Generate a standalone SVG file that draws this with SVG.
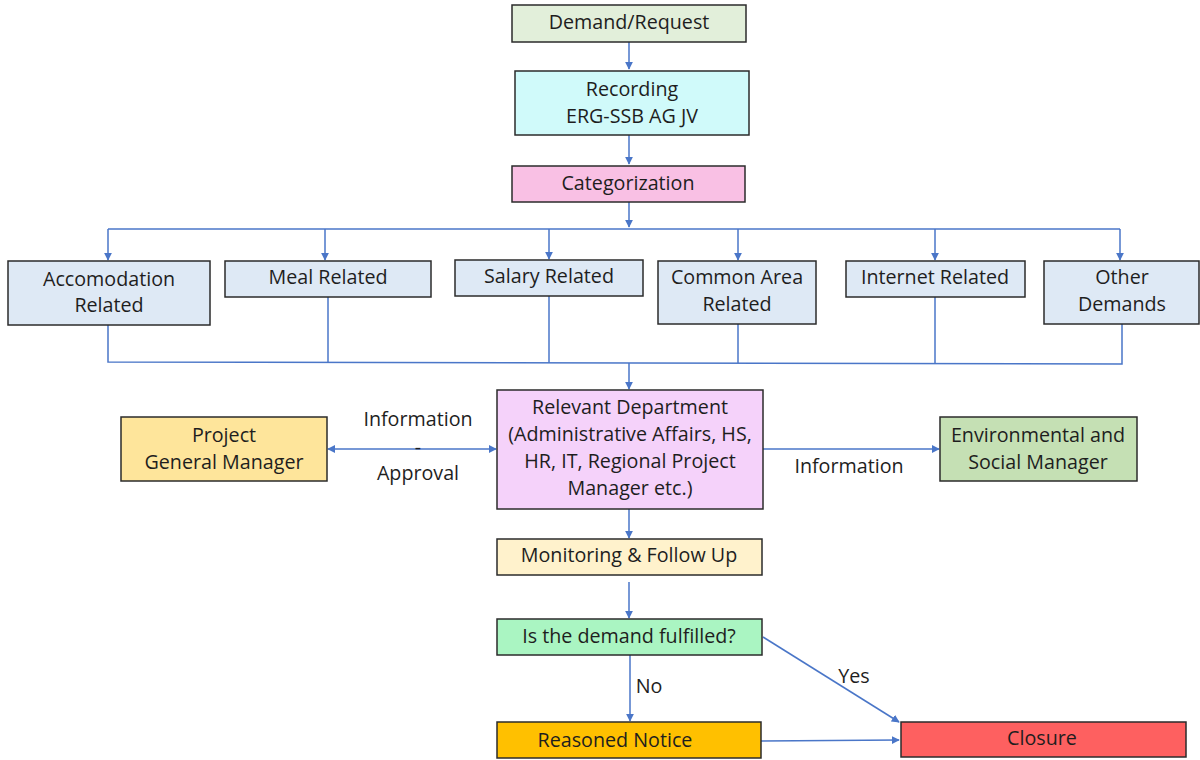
<svg xmlns="http://www.w3.org/2000/svg" width="1200" height="760" viewBox="0 0 1200 760">
  <style>
    .box { stroke: #2b2b2b; stroke-width: 1.5; }
    .t { font-family: "Open Sans", "Liberation Sans", sans-serif; font-size: 19.7px; fill: #1e1e1e; text-anchor: middle; dominant-baseline: central; }
    .ln { fill: none; stroke: #4a76c8; stroke-width: 1.5; }
  </style>
  <defs>
    <marker id="ah" viewBox="0 0 10 10" refX="9" refY="5" markerWidth="8" markerHeight="8" markerUnits="userSpaceOnUse" orient="auto-start-reverse">
      <path d="M0,0 L10,5 L0,10 z" fill="#4a76c8"/>
    </marker>
  </defs>
  <rect width="1200" height="760" fill="#ffffff"/>

  <g id="connectors">
    <line class="ln" x1="629" y1="42" x2="629" y2="69" marker-end="url(#ah)"/>
    <line class="ln" x1="629" y1="135" x2="629" y2="164" marker-end="url(#ah)"/>
    <line class="ln" x1="629" y1="202" x2="629" y2="227" marker-end="url(#ah)"/>
    <!-- distribution bus -->
    <line class="ln" x1="108" y1="229" x2="1120" y2="229"/>
    <line class="ln" x1="108" y1="229" x2="108" y2="260" marker-end="url(#ah)"/>
    <line class="ln" x1="325" y1="229" x2="325" y2="260" marker-end="url(#ah)"/>
    <line class="ln" x1="549" y1="229" x2="549" y2="259" marker-end="url(#ah)"/>
    <line class="ln" x1="738" y1="229" x2="738" y2="260" marker-end="url(#ah)"/>
    <line class="ln" x1="935" y1="229" x2="935" y2="260" marker-end="url(#ah)"/>
    <line class="ln" x1="1120" y1="229" x2="1120" y2="260" marker-end="url(#ah)"/>
    <!-- collection bus -->
    <polyline class="ln" points="108,325 108,362 1122,364 1122,324"/>
    <line class="ln" x1="328" y1="297" x2="328" y2="362"/>
    <line class="ln" x1="549" y1="296" x2="549" y2="363"/>
    <line class="ln" x1="738" y1="324" x2="738" y2="363"/>
    <line class="ln" x1="935" y1="297" x2="935" y2="363"/>
    <line class="ln" x1="629" y1="363" x2="629" y2="389" marker-end="url(#ah)"/>
    <!-- side links -->
    <line class="ln" x1="328" y1="449" x2="496" y2="449" marker-start="url(#ah)" marker-end="url(#ah)"/>
    <line class="ln" x1="763" y1="449" x2="939" y2="449" marker-end="url(#ah)"/>
    <!-- lower flow -->
    <line class="ln" x1="629" y1="509" x2="629" y2="538" marker-end="url(#ah)"/>
    <line class="ln" x1="629" y1="582" x2="629" y2="618" marker-end="url(#ah)"/>
    <line class="ln" x1="630" y1="655" x2="630" y2="721" marker-end="url(#ah)"/>
    <line class="ln" x1="763" y1="637" x2="899" y2="722" marker-end="url(#ah)"/>
    <line class="ln" x1="761" y1="741" x2="899" y2="740" marker-end="url(#ah)"/>
    <!-- connector labels -->
    <text class="t" x="418" y="418">Information</text>
    <text class="t" x="418" y="446">-</text>
    <text class="t" x="418" y="472">Approval</text>
    <text class="t" x="849" y="465">Information</text>
    <text class="t" x="649" y="685">No</text>
    <text class="t" x="854" y="675">Yes</text>
  </g>

  <g id="demand">
    <rect class="box" x="512" y="5" width="234" height="37" fill="#e2efda"/>
    <text class="t" x="629" y="21.5">Demand/Request</text>
  </g>
  <g id="recording">
    <rect class="box" x="515" y="71" width="234" height="64" fill="#d0fafa"/>
    <text class="t" x="632" y="88.5">Recording</text>
    <text class="t" x="632" y="115.5">ERG-SSB AG JV</text>
  </g>
  <g id="categorization">
    <rect class="box" x="512" y="166" width="233" height="36" fill="#f9c0e4"/>
    <text class="t" x="628" y="182.5">Categorization</text>
  </g>

  <g id="accomodation">
    <rect class="box" x="8" y="261" width="202" height="64" fill="#dee9f5"/>
    <text class="t" x="109" y="278.5">Accomodation</text>
    <text class="t" x="109" y="304.5">Related</text>
  </g>
  <g id="meal">
    <rect class="box" x="225" y="261" width="206" height="36" fill="#dee9f5"/>
    <text class="t" x="328" y="276.5">Meal Related</text>
  </g>
  <g id="salary">
    <rect class="box" x="455" y="260" width="188" height="36" fill="#dee9f5"/>
    <text class="t" x="549" y="275.5">Salary Related</text>
  </g>
  <g id="common-area">
    <rect class="box" x="658" y="261" width="158" height="63" fill="#dee9f5"/>
    <text class="t" x="737" y="276.5">Common Area</text>
    <text class="t" x="737" y="303.5">Related</text>
  </g>
  <g id="internet">
    <rect class="box" x="846" y="261" width="179" height="36" fill="#dee9f5"/>
    <text class="t" x="935" y="276.5">Internet Related</text>
  </g>
  <g id="other">
    <rect class="box" x="1044" y="261" width="155" height="63" fill="#dee9f5"/>
    <text class="t" x="1122" y="276.5">Other</text>
    <text class="t" x="1122" y="303.5">Demands</text>
  </g>

  <g id="relevant-department">
    <rect class="box" x="497" y="390" width="266" height="119" fill="#f5d2fa"/>
    <text class="t" x="630" y="406.5">Relevant Department</text>
    <text class="t" x="630" y="433.5">(Administrative Affairs, HS,</text>
    <text class="t" x="630" y="460.5">HR, IT, Regional Project</text>
    <text class="t" x="630" y="487.5">Manager etc.)</text>
  </g>
  <g id="project-gm">
    <rect class="box" x="121" y="417" width="206" height="64" fill="#fee59b"/>
    <text class="t" x="224" y="434.5">Project</text>
    <text class="t" x="224" y="461.5">General Manager</text>
  </g>
  <g id="env-social">
    <rect class="box" x="940" y="417" width="197" height="64" fill="#c5e0b4"/>
    <text class="t" x="1038" y="434.5">Environmental and</text>
    <text class="t" x="1038" y="461.5">Social Manager</text>
  </g>

  <g id="monitoring">
    <rect class="box" x="497" y="539" width="265" height="36" fill="#fff2cc"/>
    <text class="t" x="629" y="554.5">Monitoring &amp; Follow Up</text>
  </g>
  <g id="fulfilled">
    <rect class="box" x="497" y="619" width="265" height="36" fill="#aaf5c2"/>
    <text class="t" x="629" y="635.5">Is the demand fulfilled?</text>
  </g>
  <g id="reasoned-notice">
    <rect class="box" x="497" y="722" width="264" height="36" fill="#ffc000"/>
    <text class="t" x="615" y="739.5">Reasoned Notice</text>
  </g>
  <g id="closure">
    <rect class="box" x="901" y="722" width="285" height="35" fill="#fe6060"/>
    <text class="t" x="1042" y="737.5">Closure</text>
  </g>
</svg>
